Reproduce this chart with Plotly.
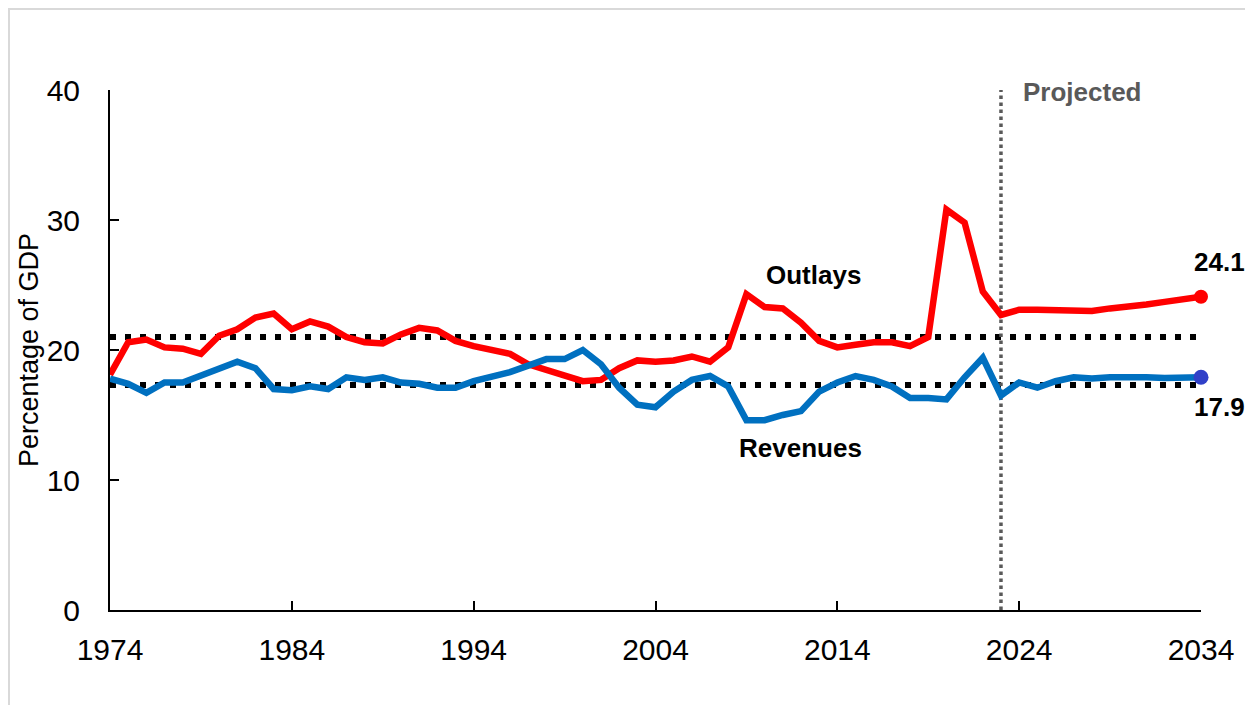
import plotly.graph_objects as go

# fiscal years
years = list(range(1974, 2035))

# total outlays, percentage of GDP
outlays = [
    18.1, 20.6, 20.8, 20.2, 20.1, 19.7, 21.1, 21.6, 22.5, 22.8,
    21.6, 22.2, 21.8, 21.0, 20.6, 20.5, 21.2, 21.7, 21.5, 20.7,
    20.3, 20.0, 19.7, 18.9, 18.5, 18.0, 17.6, 17.7, 18.6, 19.2,
    19.1, 19.2, 19.5, 19.1, 20.2, 24.3, 23.3, 23.2, 22.1, 20.7,
    20.2, 20.4, 20.6, 20.6, 20.3, 21.0, 30.8, 29.8, 24.5, 22.7,
    23.1, 23.1, 23.1, 23.1, 23.0, 23.2, 23.3, 23.5, 23.7, 23.9,
    24.1,
]

# total revenues, percentage of GDP
revenues = [
    17.8, 17.4, 16.7, 17.5, 17.5, 18.0, 18.5, 19.1, 18.6, 17.0,
    16.9, 17.2, 17.0, 17.9, 17.7, 17.9, 17.5, 17.4, 17.1, 17.1,
    17.6, 17.9, 18.3, 18.8, 19.3, 19.3, 20.0, 18.9, 17.1, 15.8,
    15.6, 16.8, 17.7, 18.0, 17.2, 14.6, 14.6, 15.0, 15.3, 16.8,
    17.5, 18.0, 17.7, 17.2, 16.3, 16.3, 16.2, 17.9, 19.4, 16.5,
    17.5, 17.1, 17.6, 17.9, 17.8, 17.9, 17.95, 17.9, 17.85, 17.9,
    17.9,
]

# 50-year averages (1974-2023)
outlays_avg = 21.0
revenues_avg = 17.3

first_projected = 2023

RED = "#FF0000"
BLUE = "#0070C0"
FONT = "Liberation Sans, Arial, sans-serif"

fig = go.Figure()

# average lines, black dots
for avg in (outlays_avg, revenues_avg):
    fig.add_trace(go.Scatter(
        x=[years[0], years[-1]], y=[avg, avg], mode="lines",
        line=dict(color="black", width=6, dash="6px,9px"),
        hoverinfo="skip", showlegend=False,
    ))

# start of projection period
fig.add_trace(go.Scatter(
    x=[first_projected, first_projected], y=[0, 40], mode="lines",
    line=dict(color="#595959", width=3.5, dash="3.5px,3.5px"),
    hoverinfo="skip", showlegend=False,
))

fig.add_trace(go.Scatter(
    x=years, y=outlays, mode="lines", name="Outlays",
    line=dict(color=RED, width=6.5), showlegend=False, cliponaxis=False,
))
fig.add_trace(go.Scatter(
    x=years, y=revenues, mode="lines", name="Revenues",
    line=dict(color=BLUE, width=6.5), showlegend=False, cliponaxis=False,
))

# end points
fig.add_trace(go.Scatter(
    x=[years[-1]], y=[outlays[-1]], mode="markers",
    marker=dict(color=RED, size=14), showlegend=False, cliponaxis=False,
))
fig.add_trace(go.Scatter(
    x=[years[-1]], y=[revenues[-1]], mode="markers",
    marker=dict(color="#3040C8", size=15), showlegend=False, cliponaxis=False,
))

bold = dict(family=FONT, size=26, color="black")
fig.add_annotation(x=2012.7, y=25.8, text="<b>Outlays</b>", showarrow=False, font=bold)
fig.add_annotation(x=2012.0, y=12.5, text="<b>Revenues</b>", showarrow=False, font=bold)
# end values, placed just right of the last year
end_x = (years[-1] + 1 - years[0]) / (years[-1] - years[0])
fig.add_annotation(x=end_x, xref="paper", xanchor="center", y=26.8,
                   text="<b>%.1f</b>" % outlays[-1], showarrow=False, font=bold)
fig.add_annotation(x=end_x, xref="paper", xanchor="center", y=15.6,
                   text="<b>%.1f</b>" % revenues[-1], showarrow=False, font=bold)
fig.add_annotation(x=2027.5, y=39.85, text="<b>Projected</b>", showarrow=False,
                   font=dict(family=FONT, size=26, color="#595959"))

# light frame around the figure
fig.add_shape(type="rect", xref="paper", yref="paper",
              x0=-101 / 1091, x1=1.2, y0=-0.3, y1=1 + 81 / 520,
              line=dict(color="#D9D9D9", width=2), layer="below")

fig.update_layout(
    width=1253, height=705,
    margin=dict(l=102, r=60, t=82, b=103),
    paper_bgcolor="white", plot_bgcolor="white",
    font=dict(family=FONT, color="black"),
)
fig.update_xaxes(
    range=[1974, 2034], tickvals=list(range(1974, 2035, 10)),
    showgrid=False, zeroline=False,
    showline=True, linecolor="black", linewidth=2,
    ticks="inside", ticklen=9, tickwidth=1.5, tickcolor="black",
    tickfont=dict(size=30), ticklabelstandoff=12,
)
fig.update_yaxes(
    range=[0, 40], tickvals=[0, 10, 20, 30, 40],
    showgrid=False, zeroline=False,
    showline=True, linecolor="black", linewidth=2,
    ticks="inside", ticklen=9, tickwidth=1.5, tickcolor="black",
    tickfont=dict(size=30), ticklabelstandoff=22,
    title=dict(text="Percentage of GDP", font=dict(size=27), standoff=0),
)

fig.write_html("out.html")
